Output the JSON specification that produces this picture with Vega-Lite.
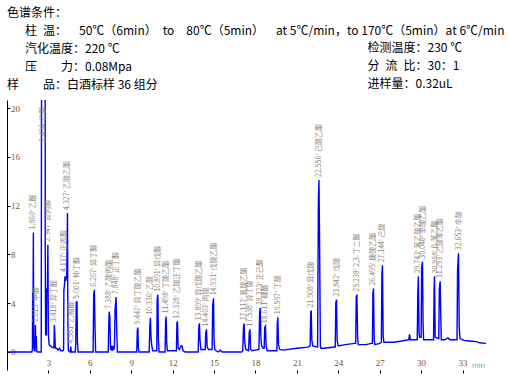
{
"$schema": "https://vega.github.io/schema/vega-lite/v6.json",
"width": 479, "height": 270,
"autosize": {"type": "none"},
"padding": {"left": 7, "top": 100, "right": 32, "bottom": 12},
"background": "white",
"config": {"view": {"stroke": null}},
"title": {"text": ["色谱条件：", "\u200b\u3000\u2002柱\u2002温：\u2002\u200250℃（6min）\u2002to\u2002\u200280℃（5min）\u2002\u2002at 5℃/min，to 170℃（5min）at 6℃/min", "\u200b\u3000\u2002汽化温度：220 ℃", "\u200b\u3000\u2002压\u3000\u3000力：0.08Mpa", "样\u3000\u3000品：白酒标样 36 组分"],
 "anchor": "start", "frame": "group", "orient": "top", "baseline": "bottom", "offset": 0, "dy": 63,
 "font": "Noto Sans CJK SC", "fontSize": 12, "fontWeight": "normal", "lineHeight": 18, "color": "#000000"},
"datasets": {
"trace": [
{"t":0,"v":0},{"t":1.8,"v":0},{"t":1.84,"v":0.2},{"t":1.86,"v":4.9},{"t":1.89,"v":4.9},{"t":1.91,"v":9.8},{"t":1.94,"v":0.4},{"t":1.98,"v":0.1},
{"t":2.03,"v":0.1},{"t":2.06,"v":2.2},{"t":2.09,"v":0.4},{"t":2.12,"v":1.3},{"t":2.15,"v":0.1},{"t":2.2,"v":0},{"t":2.48,"v":0},
{"t":2.52,"v":40},{"t":2.76,"v":40},{"t":2.77,"v":8.7},{"t":2.8,"v":1.4},{"t":2.85,"v":1.4},{"t":2.88,"v":5.2},{"t":2.93,"v":5.0},{"t":2.96,"v":8.8},{"t":3.0,"v":1.4},{"t":3.05,"v":0.6},{"t":3.15,"v":0.5},{"t":3.25,"v":0.4},{"t":3.35,"v":0.35},{"t":3.4,"v":0.4},{"t":3.43,"v":2.2},{"t":3.46,"v":1.6},{"t":3.5,"v":0.3},{"t":3.6,"v":0.3},{"t":3.7,"v":0.15},{"t":3.8,"v":0.3},{"t":3.9,"v":0.1},{"t":4.05,"v":0.1},
{"t":4.1,"v":0.2},{"t":4.12,"v":5.0},{"t":4.17,"v":5.6},{"t":4.2,"v":6.2},{"t":4.25,"v":5.8},{"t":4.33,"v":6.3},{"t":4.38,"v":11.4},{"t":4.41,"v":2.5},{"t":4.44,"v":0.1},{"t":4.58,"v":0},{"t":4.62,"v":0.45},{"t":4.66,"v":0},{"t":4.95,"v":0},{"t":4.98,"v":0.8},{"t":5.02,"v":4.1},{"t":5.07,"v":4.1},{"t":5.1,"v":0.8},{"t":5.15,"v":0},
{"t":6.24,"v":0},{"t":6.28,"v":4.7},{"t":6.33,"v":5.1},{"t":6.38,"v":1.8},{"t":6.42,"v":0},
{"t":7.33,"v":0},{"t":7.37,"v":2.0},{"t":7.4,"v":3.3},{"t":7.45,"v":2.9},{"t":7.5,"v":0.3},{"t":7.55,"v":0.4},{"t":7.6,"v":0.1},{"t":7.65,"v":0.5},{"t":7.7,"v":0.2},{"t":7.78,"v":0.3},{"t":7.83,"v":3.5},{"t":7.9,"v":4.5},{"t":7.95,"v":1.7},{"t":8.0,"v":0},
{"t":9.4,"v":0},{"t":9.44,"v":1.8},{"t":9.48,"v":2.0},{"t":9.52,"v":0.3},{"t":9.56,"v":0},
{"t":10.3,"v":0},{"t":10.35,"v":2.2},{"t":10.39,"v":2.8},{"t":10.43,"v":1.3},{"t":10.48,"v":0.6},{"t":10.55,"v":0.1},
{"t":10.85,"v":0.1},{"t":10.88,"v":4.3},{"t":10.93,"v":4.7},{"t":10.97,"v":1.0},{"t":11.02,"v":0},
{"t":11.45,"v":0},{"t":11.49,"v":2.5},{"t":11.53,"v":2.9},{"t":11.57,"v":0.8},{"t":11.62,"v":0.1},{"t":12.2,"v":0.1},
{"t":12.27,"v":0.1},{"t":12.31,"v":2.4},{"t":12.35,"v":2.5},{"t":12.4,"v":0.3},{"t":12.5,"v":0.2},{"t":12.6,"v":0.5},{"t":12.68,"v":0.5},{"t":12.75,"v":0.1},{"t":12.9,"v":0},
{"t":13.85,"v":0},{"t":13.9,"v":2.1},{"t":13.94,"v":2.35},{"t":13.98,"v":1.0},{"t":14.05,"v":0.2},
{"t":14.36,"v":0.2},{"t":14.4,"v":1.6},{"t":14.45,"v":1.85},{"t":14.5,"v":0.4},{"t":14.6,"v":0.2},
{"t":14.86,"v":0.2},{"t":14.9,"v":3.8},{"t":14.96,"v":4.4},{"t":15.0,"v":1.0},{"t":15.05,"v":0.2},{"t":15.15,"v":0.1},{"t":15.3,"v":0},{"t":15.45,"v":0.15},{"t":15.6,"v":0},{"t":17.0,"v":0},
{"t":17.08,"v":0.1},{"t":17.13,"v":2.0},{"t":17.18,"v":2.35},{"t":17.22,"v":0.8},{"t":17.3,"v":0.2},
{"t":17.5,"v":0.1},{"t":17.55,"v":1.6},{"t":17.6,"v":1.85},{"t":17.65,"v":0.2},{"t":17.75,"v":0.1},
{"t":18.25,"v":0.2},{"t":18.3,"v":3.2},{"t":18.34,"v":3.6},{"t":18.4,"v":1.0},{"t":18.45,"v":0.5},{"t":18.55,"v":0.3},
{"t":18.63,"v":0.3},{"t":18.67,"v":2.0},{"t":18.72,"v":2.1},{"t":18.77,"v":0.5},{"t":18.85,"v":0.1},
{"t":19.55,"v":0.1},{"t":19.58,"v":2.3},{"t":19.62,"v":2.85},{"t":19.67,"v":0.6},{"t":19.75,"v":0.2},{"t":20.0,"v":0.15},{"t":21.0,"v":0.3},{"t":21.8,"v":0.4},
{"t":21.96,"v":0.5},{"t":22.0,"v":3.2},{"t":22.04,"v":3.4},{"t":22.08,"v":1.0},{"t":22.15,"v":0.5},{"t":22.5,"v":0.4},
{"t":22.56,"v":12.5},{"t":22.6,"v":14.1},{"t":22.65,"v":8.4},{"t":22.7,"v":0.5},{"t":22.75,"v":0.3},{"t":23.0,"v":0.3},{"t":23.7,"v":0.4},
{"t":23.78,"v":0.4},{"t":23.82,"v":4.0},{"t":23.87,"v":4.3},{"t":23.92,"v":0.9},{"t":24.0,"v":0.5},{"t":24.5,"v":0.6},{"t":25.2,"v":0.7},
{"t":25.26,"v":0.7},{"t":25.3,"v":4.5},{"t":25.35,"v":4.7},{"t":25.4,"v":1.2},{"t":25.45,"v":0.6},{"t":26.0,"v":0.6},{"t":26.4,"v":0.7},
{"t":26.47,"v":0.7},{"t":26.51,"v":4.8},{"t":26.55,"v":5.2},{"t":26.6,"v":1.0},{"t":26.65,"v":0.6},{"t":27.0,"v":0.7},
{"t":27.12,"v":0.8},{"t":27.16,"v":6.4},{"t":27.2,"v":7.1},{"t":27.25,"v":1.3},{"t":27.3,"v":0.8},{"t":28.0,"v":0.8},{"t":28.6,"v":0.9},{"t":29.1,"v":1.0},{"t":29.16,"v":1.45},{"t":29.22,"v":1.0},{"t":29.68,"v":1.0},
{"t":29.72,"v":1.0},{"t":29.76,"v":4.8},{"t":29.8,"v":6.2},{"t":29.85,"v":1.5},{"t":29.9,"v":1.2},{"t":30.0,"v":1.2},{"t":30.04,"v":6.9},{"t":30.1,"v":7.4},{"t":30.14,"v":2.4},{"t":30.18,"v":1.0},{"t":30.8,"v":1.0},
{"t":30.9,"v":1.0},{"t":30.94,"v":5.0},{"t":30.97,"v":6.2},{"t":31.02,"v":1.2},{"t":31.28,"v":1.1},{"t":31.32,"v":5.2},{"t":31.38,"v":5.8},{"t":31.42,"v":3.2},{"t":31.46,"v":1.0},{"t":31.7,"v":1.0},{"t":31.95,"v":1.15},{"t":32.1,"v":1.0},{"t":32.6,"v":1.0},
{"t":32.64,"v":6.7},{"t":32.71,"v":8.1},{"t":32.76,"v":2.0},{"t":32.82,"v":1.1},{"t":33.1,"v":0.95},{"t":33.5,"v":0.9},{"t":34.0,"v":0.85},{"t":34.25,"v":0.75},{"t":34.7,"v":0.7}
],
"peaks": [
{"t":1.91,"ly":9.8,"label":"1.860' 乙醛"},
{"t":2.07,"ly":2.2,"label":"2.013' 甲醇"},
{"t":2.62,"ly":17.0,"label":"2.494' 乙醇"},
{"t":2.97,"ly":8.8,"label":"2.947' 异丙醇"},
{"t":3.43,"ly":2.2,"label":"3.418' 异丁醛"},
{"t":4.14,"ly":6.3,"label":"4.137' 正丙醇"},
{"t":4.38,"ly":11.4,"label":"4.327' 乙酸乙酯"},
{"t":4.62,"ly":0.45,"label":"4.581' 乙缩醛"},
{"t":5.06,"ly":4.1,"label":"5.001' 仲丁醇"},
{"t":6.33,"ly":5.1,"label":"6.267' 异丁醇"},
{"t":7.42,"ly":3.3,"label":"7.388' 乙酸丙酯"},
{"t":7.9,"ly":4.5,"label":"7.848' 正丁醇"},
{"t":9.48,"ly":2.0,"label":"9.447' 异丁酸乙酯"},
{"t":10.39,"ly":2.8,"label":"10.336' 乙酸"},
{"t":10.93,"ly":4.7,"label":"10.891' 异戊醇"},
{"t":11.53,"ly":2.9,"label":"11.498' 丁酸乙酯"},
{"t":12.35,"ly":2.5,"label":"12.328' 乙酸正丁酯"},
{"t":13.94,"ly":2.35,"label":"13.899' 异戊酸乙酯"},
{"t":14.45,"ly":1.85,"label":"14.403' 丙酸"},
{"t":14.96,"ly":4.4,"label":"14.931' 戊酸乙酯"},
{"t":17.18,"ly":2.35,"label":"17.117' 乳酸乙酯"},
{"t":17.6,"ly":1.85,"label":"17.538' 异丁酸"},
{"t":18.34,"ly":3.6,"label":"18.323' 正己醇"},
{"t":18.72,"ly":2.1,"label":"18.611' 糠醛"},
{"t":19.62,"ly":2.85,"label":"19.597' 丁酸"},
{"t":22.04,"ly":3.4,"label":"21.908' 异戊酸"},
{"t":22.6,"ly":14.1,"label":"22.556' 己酸乙酯"},
{"t":23.87,"ly":4.3,"label":"23.842' 戊酸"},
{"t":25.35,"ly":4.7,"label":"25.238' 2,3-丁二醇"},
{"t":26.55,"ly":5.2,"label":"26.495' 庚酸乙酯"},
{"t":27.2,"ly":7.1,"label":"27.144' 己酸"},
{"t":29.8,"ly":6.2,"label":"29.743' 苯乙酸乙酯"},
{"t":30.1,"ly":7.4,"label":"30.046' 辛酸乙酯"},
{"t":30.97,"ly":6.2,"label":"30.958' β-苯乙醇"},
{"t":31.38,"ly":5.8,"label":"31.293' 乙酸苯乙酯"},
{"t":32.71,"ly":8.1,"label":"32.653' 辛酸"}
]
},
"layer": [
{
 "data": {"name": "trace"},
 "mark": {"type": "line", "color": "#0000ff", "strokeWidth": 1.4, "clip": true},
 "encoding": {
  "x": {"field": "t", "type": "quantitative", "scale": {"domain": [0, 34.7], "nice": false, "zero": false},
   "axis": {"values": [3,6,9,12,15,18,21,24,27,30,33], "domain": false, "grid": false, "tickSize": 3, "tickColor": "#000000", "tickWidth": 1, "labelOverlap": false,
    "labelPadding": -11, "labelBaseline": "middle", "labelAlign": "center", "labelFont": "Liberation Serif", "labelFontSize": 9, "labelColor": "#7a5230",
    "title": "min", "titleX": 471, "titleY": -5, "titleFont": "Liberation Sans", "titleFontSize": 8, "titleFontWeight": "normal", "titleColor": "#8aa4c0", "titleAlign": "center", "titleBaseline": "middle"}},
  "y": {"field": "v", "type": "quantitative", "scale": {"domain": [-1.48, 20.66], "nice": false, "zero": false},
   "axis": {"values": [0,2,4,6,8,10,12,14,16,18,20], "domain": true, "domainColor": "#000000", "domainWidth": 1, "grid": false, "tickSize": -3, "tickColor": "#000000", "labelOverlap": false,
    "labelPadding": -0.5, "labelAlign": "left", "labelBaseline": "middle", "labelFont": "Liberation Serif", "labelFontSize": 9, "labelColor": "#7a5230",
    "title": ["检测温度：230 ℃", "分\u2002流\u2002比：30：1", "进样量：0.32uL"], "titleAngle": 0, "titleAlign": "left", "titleBaseline": "top", "titleX": 360, "titleY": -58,
    "titleFont": "Noto Sans CJK SC", "titleFontSize": 12, "titleFontWeight": "normal", "titleLineHeight": 18, "titleColor": "#000000"}}
 }
},
{
 "mark": {"type": "rule", "color": "#000000", "strokeWidth": 1},
 "encoding": {"y": {"datum": 20.66}}
},
{
 "mark": {"type": "rule", "color": "#000000", "strokeWidth": 1},
 "encoding": {"x": {"datum": 34.7}, "y": {"datum": 0.75}, "y2": {"datum": 20.66}}
},
{
 "data": {"name": "peaks"},
 "mark": {"type": "text", "angle": 270, "align": "left", "baseline": "middle", "dx": 3, "font": "Noto Sans CJK SC", "fontSize": 7, "color": "#8f877a"},
 "encoding": {"x": {"field": "t", "type": "quantitative"}, "y": {"field": "ly", "type": "quantitative"}, "text": {"field": "label"}}
},
{
 "mark": {"type": "text", "align": "left", "baseline": "top", "dx": 1, "dy": 1, "font": "Liberation Serif", "fontSize": 9, "color": "#7a5230", "text": "mV"},
 "encoding": {"x": {"datum": 0}, "y": {"datum": 20.66}}
}
]
}
